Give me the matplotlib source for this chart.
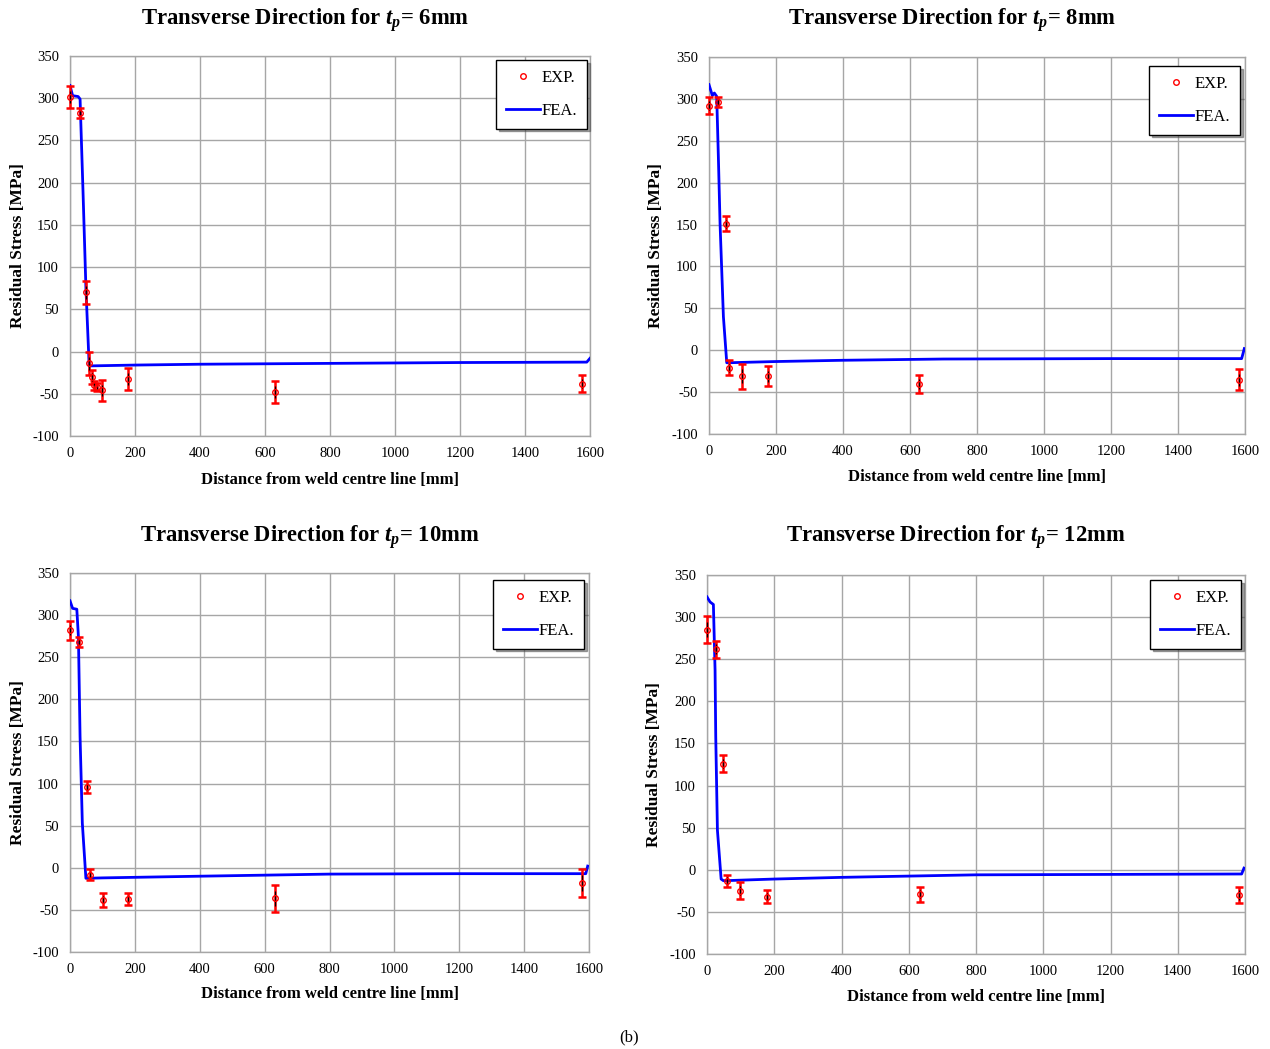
import matplotlib
matplotlib.use("Agg")
import matplotlib.pyplot as plt

plt.rcParams["font.family"] = ["Liberation Serif", "DejaVu Serif"]
plt.rcParams["mathtext.fontset"] = "custom"
plt.rcParams["mathtext.rm"] = "Liberation Serif:bold"
plt.rcParams["mathtext.it"] = "Liberation Serif:bold:italic"
plt.rcParams["mathtext.bf"] = "Liberation Serif:bold"
plt.rcParams["axes.unicode_minus"] = False

# ---- data ----
thick = ["6", "8", "10", "12"]

# experimental points: distance [mm], stress [MPa], half error [MPa]
exp_x6 = [0, 31, 49, 59, 69, 75, 82, 99, 179, 630, 1576]
exp_y6 = [301, 283, 70, -14, -30, -40, -42, -46, -33, -48, -38]
exp_e6 = [13, 6, 14, 14, 8, 5, 5, 12, 13, 13, 10]

exp_x8 = [0, 28, 50, 60, 99, 177, 628, 1582]
exp_y8 = [292, 296, 151, -21, -31, -31, -40, -35]
exp_e8 = [10, 6, 9, 9, 15, 12, 11, 13]

exp_x10 = [0, 29, 51, 62, 101, 180, 632, 1577]
exp_y10 = [282, 268, 96, -8, -38, -37, -36, -18]
exp_e10 = [11, 6, 7, 6, 8, 7, 16, 17]

exp_x12 = [0, 26, 49, 59, 98, 179, 632, 1581]
exp_y12 = [285, 262, 126, -13, -25, -32, -29, -30]
exp_e12 = [16, 10, 10, 7, 10, 8, 9, 10]

# FEA curves
fea_x6 = [0, 8, 25, 31, 40, 49, 55, 59, 200, 400, 800, 1200, 1590, 1600]
fea_y6 = [315, 303, 302, 299, 190, 75, 20, -17, -16, -15, -14, -13, -12.5, -8]

fea_x8 = [0, 10, 16, 23, 28, 33, 43, 53, 200, 400, 700, 1200, 1590, 1598]
fea_y8 = [317, 304, 307, 303, 230, 151, 40, -15, -13.5, -12, -10.5, -10, -10, 2]

fea_x10 = [0, 8, 21, 26, 31, 38, 49, 100, 400, 800, 1200, 1590, 1596]
fea_y10 = [317, 308, 307, 274, 156, 53, -12.5, -12, -10, -7.5, -7, -7, 2]

fea_x12 = [0, 9, 19, 24, 26, 31, 42, 49, 200, 400, 800, 1200, 1590, 1597]
fea_y12 = [324, 318, 315, 237, 158, 47, -11, -13, -11, -9, -6, -5.5, -5, 2]

exps = [(exp_x6, exp_y6, exp_e6), (exp_x8, exp_y8, exp_e8),
        (exp_x10, exp_y10, exp_e10), (exp_x12, exp_y12, exp_e12)]
feas = [(fea_x6, fea_y6), (fea_x8, fea_y8), (fea_x10, fea_y10), (fea_x12, fea_y12)]

# ---- layout (pixels of a 1270x1049 figure) ----
W, H = 1270, 1049
boxes = [(70, 590, 56, 436), (709, 1245, 57, 434),
         (70, 589, 573, 952), (707, 1245, 575, 954)]
title_pos = [(305, 20), (952, 20), (310, 537), (956, 537)]
xlab_pos = [(330, 480), (977, 477), (330, 994), (976, 997)]
ylab_x = [18, 656, 18, 654]
leg_anchor = [(587, 60), (1240, 66), (584, 580), (1241, 580)]

fig = plt.figure(figsize=(W / 100, H / 100), dpi=100)
grid_c = "#a6a6a6"

for i in range(4):
    x0, x1, y0, y1 = boxes[i]
    ax = fig.add_axes([x0 / W, 1 - y1 / H, (x1 - x0) / W, (y1 - y0) / H])
    fx, fy = feas[i]
    ex, ey, ee = exps[i]
    ax.plot(fx, fy, color="#0000ff", lw=2, label="FEA.", zorder=3)
    ax.errorbar(ex, ey, yerr=ee, fmt="none", ecolor="#ff0000", elinewidth=1.8,
                capsize=3, capthick=1.8, zorder=4, clip_on=False)
    ax.errorbar(ex, ey, yerr=[e * 0.55 for e in ee], fmt="none", ecolor="black",
                elinewidth=0.9, capsize=0, zorder=5, clip_on=False, linestyle=":")
    ax.plot(ex, ey, "o", mfc="none", mec="#ff0000", ms=4, mew=1, ls="none",
            label="EXP.", zorder=6, clip_on=False)

    ax.set_xlim(0, 1600)
    ax.set_ylim(-100, 350)
    ax.set_xticks(range(0, 1601, 200))
    ax.set_yticks(range(-100, 351, 50))
    ax.grid(color=grid_c, lw=1)
    ax.set_axisbelow(True)
    for s in ax.spines.values():
        s.set_color(grid_c)
        s.set_linewidth(1)
    ax.tick_params(length=0, labelsize=10.5, pad=8)

    h, l = ax.get_legend_handles_labels()
    lx, ly = leg_anchor[i]
    leg = ax.legend([h[1], h[0]], [l[1], l[0]], loc="upper right",
                    bbox_to_anchor=((lx - x0) / (x1 - x0), (y1 - ly) / (y1 - y0)),
                    fontsize=12, frameon=True, fancybox=False, shadow=True,
                    edgecolor="black", handlelength=2.0, handletextpad=0.1,
                    labelspacing=1.0, borderpad=0.6, borderaxespad=0)
    leg.get_frame().set_linewidth(1)

    tx, ty = title_pos[i]
    fig.text(tx / W, 1 - ty / H,
             "Transverse Direction for $t_p$= " + thick[i] + "mm",
             ha="center", va="center", fontsize=16.3, fontweight="bold")
    xx, xy = xlab_pos[i]
    fig.text(xx / W, 1 - xy / H, "Distance from weld centre line [mm]",
             ha="center", va="center", fontsize=12, fontweight="bold")
    fig.text(ylab_x[i] / W, 1 - ((y0 + y1) / 2 + 0) / H, "Residual Stress [MPa]",
             ha="center", va="center", rotation=90, fontsize=12.5, fontweight="bold")

fig.text(629 / W, 1 - 1037 / H, "(b)", ha="center", va="center", fontsize=12)

fig.savefig("out.png", dpi=100)
